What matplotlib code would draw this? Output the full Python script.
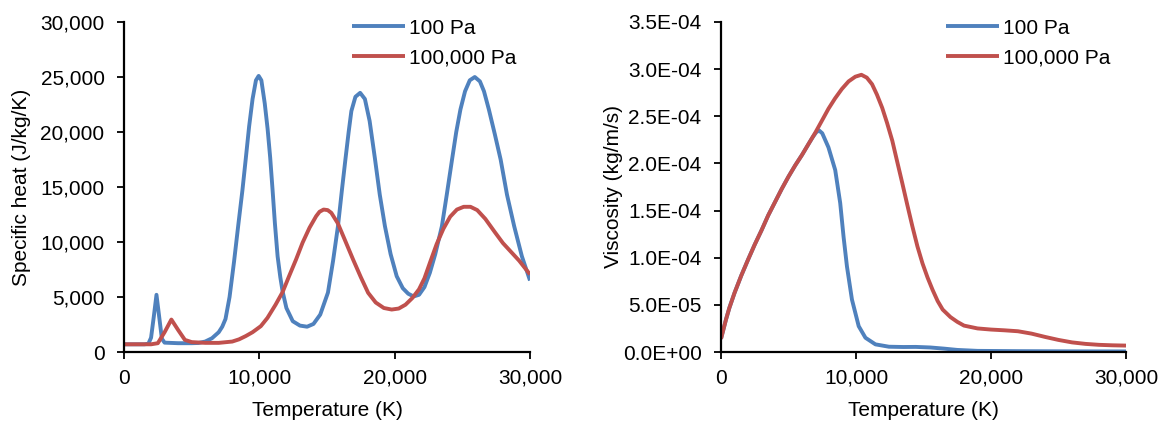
import matplotlib
matplotlib.use("Agg")
import matplotlib.pyplot as plt
from matplotlib.ticker import FuncFormatter

plt.rcParams['font.family'] = ['Liberation Sans', 'DejaVu Sans']

# ---- Specific heat data (J/kg/K) ----
cp_T_100 = [0, 1500, 1800, 2000, 2200, 2400, 2600, 2800, 3000, 4000, 5000, 5500, 6000, 6500,
            7000, 7260, 7500, 7800, 8130, 8450, 8750, 9000, 9245, 9500, 9750, 9950, 10150,
            10400, 10610, 10800, 10980, 11150, 11350, 11550, 11720, 12000, 12470, 13000, 13530,
            14000, 14500, 15070, 15450, 15810, 16100, 16360, 16600, 16800, 17100, 17450, 17800,
            18150, 18540, 18900, 19280, 19700, 20150, 20600, 21000, 21400, 21800, 22200, 22600,
            23000, 23490, 23850, 24240, 24550, 24860, 25200, 25550, 25920, 26300, 26600, 26960,
            27400, 27830, 28300, 28830, 29400, 30000]
cp_100 = [700, 700, 750, 1300, 3200, 5200, 3200, 1200, 850, 800, 800, 820, 950, 1250,
          1800, 2300, 3000, 5000, 8200, 11600, 14700, 17600, 20500, 23000, 24700, 25100, 24700,
          22600, 20300, 17700, 14700, 11700, 8700, 6800, 5500, 4000, 2800, 2400, 2300,
          2550, 3400, 5400, 8300, 11440, 14700, 17500, 20000, 21900, 23200, 23560, 23000,
          21000, 17600, 14300, 11440, 8900, 6890, 5800, 5300, 5050, 5200, 5900, 7200,
          8900, 11440, 14300, 17500, 20000, 22050, 23700, 24700, 25000, 24600, 23700, 22050,
          19800, 17500, 14300, 11440, 8700, 6500]

cp_T_1e5 = [0, 2000, 2500, 3000, 3500, 4000, 4500, 5000, 6000, 7000, 8000, 8500, 9000, 9500,
            10110, 10600, 11200, 11720, 12200, 12710, 13200, 13710, 14200, 14450, 14750, 15050,
            15320, 15800, 16350, 16930, 17500, 18040, 18600, 19200, 19780, 20300, 20800, 21300,
            21800, 22200, 22630, 23100, 23600, 24100, 24600, 25100, 25600, 26100, 26700, 27400,
            28000, 28600, 29200, 30000]
cp_1e5 = [700, 700, 800, 1800, 2950, 2000, 1100, 900, 830, 830, 950, 1150, 1450, 1800,
          2350, 3100, 4300, 5450, 6900, 8400, 9950, 11300, 12350, 12750, 12950, 12900,
          12650, 11700, 10100, 8400, 6800, 5380, 4500, 4000, 3860, 3950, 4300, 4900,
          5700, 6700, 8200, 9800, 11200, 12300, 12950, 13200, 13200, 12900, 12100, 10900,
          9900, 9100, 8300, 7050]

# ---- Viscosity data (kg/m/s) ----
mu_T_100 = [0, 370, 620, 1000, 1500, 2000, 2500, 3000, 3500, 4000, 4500, 5000, 5500, 6000,
            6500, 6800, 7050, 7260, 7500, 7960, 8460, 8830, 9080, 9330, 9700, 10200, 10700,
            11440, 12440, 13500, 14430, 15500, 16500, 17500, 19000, 22000, 26000, 30000]
mu_100 = [1.4e-5, 3.45e-5, 4.68e-5, 6.26e-5, 8.1e-5, 9.78e-5, 1.14e-4, 1.29e-4, 1.45e-4,
          1.59e-4, 1.73e-4, 1.86e-4, 1.98e-4, 2.09e-4, 2.21e-4, 2.28e-4, 2.33e-4, 2.35e-4,
          2.32e-4, 2.17e-4, 1.93e-4, 1.58e-4, 1.22e-4, 9.07e-5, 5.56e-5, 2.74e-5, 1.51e-5,
          8.1e-6, 5.6e-6, 5.3e-6, 5.4e-6, 4.8e-6, 3.6e-6, 2.2e-6, 1.2e-6, 9e-7, 7e-7, 6e-7]

mu_T_1e5 = [0, 370, 620, 1000, 1500, 2000, 2500, 3000, 3500, 4000, 4500, 5000, 5500, 6000,
            6500, 7000, 7500, 7960, 8450, 8955, 9450, 9950, 10400, 10800, 11190, 11550, 11940,
            12300, 12690, 13050, 13430, 13800, 14180, 14550, 14925, 15300, 15670, 16050, 16420,
            17000, 17500, 18000, 19000, 20000, 21000, 22000, 23000, 24000, 25000, 26000, 27000,
            28000, 29000, 30000]
mu_1e5 = [1.4e-5, 3.45e-5, 4.68e-5, 6.26e-5, 8.1e-5, 9.78e-5, 1.14e-4, 1.29e-4, 1.45e-4,
          1.59e-4, 1.73e-4, 1.86e-4, 1.98e-4, 2.09e-4, 2.21e-4, 2.33e-4, 2.46e-4, 2.58e-4,
          2.69e-4, 2.79e-4, 2.87e-4, 2.92e-4, 2.94e-4, 2.91e-4, 2.84e-4, 2.73e-4, 2.59e-4,
          2.43e-4, 2.24e-4, 2.02e-4, 1.79e-4, 1.56e-4, 1.33e-4, 1.12e-4, 9.4e-5, 7.9e-5,
          6.6e-5, 5.4e-5, 4.5e-5, 3.7e-5, 3.2e-5, 2.8e-5, 2.5e-5, 2.38e-5, 2.3e-5, 2.2e-5,
          1.95e-5, 1.6e-5, 1.28e-5, 1.02e-5, 8.6e-6, 7.6e-6, 7.1e-6, 6.8e-6]

labels = ['100 Pa', '100,000 Pa']
colors = ['#4F81BD', '#C0504D']
x_ticks = [0, 10000, 20000, 30000]
cp_ticks = [0, 5000, 10000, 15000, 20000, 25000, 30000]
mu_ticks = [0, 5e-5, 1e-4, 1.5e-4, 2e-4, 2.5e-4, 3e-4, 3.5e-4]

FS = 15
fig = plt.figure(figsize=(11.68, 4.24), dpi=100)
ax1 = fig.add_axes([124/1168, 1-352/424, 406/1168, 330/424])
ax2 = fig.add_axes([721/1168, 1-352/424, 405/1168, 330/424])

lw = 2.8
kw = dict(lw=lw, solid_joinstyle='round', solid_capstyle='butt')
ax1.plot(cp_T_100, cp_100, color=colors[0], label=labels[0], **kw)
ax1.plot(cp_T_1e5, cp_1e5, color=colors[1], label=labels[1], **kw)
ax2.plot(mu_T_100, mu_100, color=colors[0], label=labels[0], **kw)
ax2.plot(mu_T_1e5, mu_1e5, color=colors[1], label=labels[1], **kw)

comma = FuncFormatter(lambda v, p: f"{int(round(v)):,}")
for ax, lx in ((ax1, 0.5616), (ax2, 0.556)):
    ax.set_xlim(0, 30000)
    ax.set_xticks(x_ticks)
    ax.xaxis.set_major_formatter(comma)
    for s in ('top', 'right'):
        ax.spines[s].set_visible(False)
    for s in ('left', 'bottom'):
        ax.spines[s].set_linewidth(1.6)
        ax.spines[s].set_color('black')
    ax.tick_params(direction='out', length=5, width=1.3, labelsize=FS, colors='black')
    ax.tick_params(axis='x', pad=7)
    ax.tick_params(axis='y', pad=9)
    ax.set_xlabel('Temperature (K)', fontsize=FS)
    ax.xaxis.set_label_coords(0.5, -0.15)
    ax.legend(loc='upper left', bbox_to_anchor=(lx, 1.01), frameon=False, fontsize=FS,
              handlelength=2.55, handletextpad=0.2, labelspacing=0.5,
              borderaxespad=0, borderpad=0)

ax1.set_ylim(0, 30000)
ax1.set_yticks(cp_ticks)
ax1.yaxis.set_major_formatter(comma)
ax1.set_ylabel('Specific heat (J/kg/K)', fontsize=FS)
ax1.yaxis.set_label_coords(-0.228, 0.5)

ax2.set_ylim(0, 3.5e-4)
ax2.set_yticks(mu_ticks)
ax2.yaxis.set_major_formatter(FuncFormatter(lambda v, p: f"{v:.1E}"))
ax2.set_ylabel('Viscosity (kg/m/s)', fontsize=FS)
ax2.yaxis.set_label_coords(-0.242, 0.5)

fig.savefig('out.png', dpi=100)
